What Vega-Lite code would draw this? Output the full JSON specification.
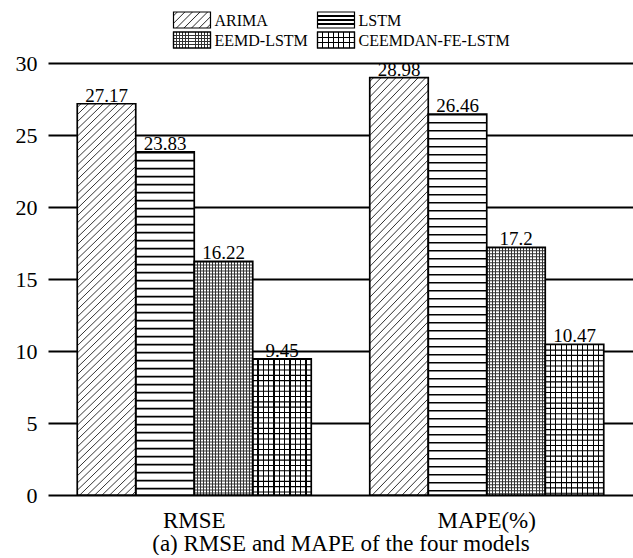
{
"$schema":"https://vega.github.io/schema/vega-lite/v6.json",
"padding":{"left":15,"top":9,"right":0,"bottom":0},
"spacing":13,
"bounds":"flush",
"config":{"font":"Liberation Serif","view":{"stroke":null},"text":{"font":"Liberation Serif"},"axis":{"labelFont":"Liberation Serif","titleFont":"Liberation Serif"}},
"datasets":{
"scores":[
{"metric":"RMSE","model":"ARIMA","value":27.17},
{"metric":"RMSE","model":"LSTM","value":23.83},
{"metric":"RMSE","model":"EEMD-LSTM","value":16.22},
{"metric":"RMSE","model":"CEEMDAN-FE-LSTM","value":9.45},
{"metric":"MAPE(%)","model":"ARIMA","value":28.98},
{"metric":"MAPE(%)","model":"LSTM","value":26.46},
{"metric":"MAPE(%)","model":"EEMD-LSTM","value":17.2},
{"metric":"MAPE(%)","model":"CEEMDAN-FE-LSTM","value":10.47}
],
"legend":[
{"model":"ARIMA","col":0,"row":0},
{"model":"LSTM","col":1,"row":0},
{"model":"EEMD-LSTM","col":0,"row":1},
{"model":"CEEMDAN-FE-LSTM","col":1,"row":1}
]
},
"vconcat":[
{
"width":432,"height":40,
"data":{"name":"legend"},
"encoding":{
"x":{"field":"col","type":"ordinal","scale":{"type":"point","padding":1},"axis":null},
"y":{"field":"row","type":"ordinal","scale":{"type":"point","padding":0.5},"axis":null}
},
"layer":[
{"mark":{"type":"point","shape":"M-1,-0.4324L1,-0.4324L1,0.4324L-1,0.4324Z","size":1369,"filled":true,"opacity":1,"stroke":"black","strokeWidth":1.2},
"encoding":{"fill":{"condition":[
{"test":"datum.model==='ARIMA'","value":{"gradient":"linear","x1":0,"y1":0,"x2":1.207,"y2":0.522,"stops":[
{"offset":0.0514,"color":"#fff"},{"offset":0.0714,"color":"#333"},{"offset":0.0914,"color":"#fff"},
{"offset":0.1943,"color":"#fff"},{"offset":0.2143,"color":"#333"},{"offset":0.2343,"color":"#fff"},
{"offset":0.3371,"color":"#fff"},{"offset":0.3571,"color":"#333"},{"offset":0.3771,"color":"#fff"},
{"offset":0.48,"color":"#fff"},{"offset":0.5,"color":"#333"},{"offset":0.52,"color":"#fff"},
{"offset":0.6229,"color":"#fff"},{"offset":0.6429,"color":"#333"},{"offset":0.6629,"color":"#fff"},
{"offset":0.7657,"color":"#fff"},{"offset":0.7857,"color":"#333"},{"offset":0.8057,"color":"#fff"},
{"offset":0.9086,"color":"#fff"},{"offset":0.9286,"color":"#333"},{"offset":0.9486,"color":"#fff"}]}},
{"test":"datum.model==='LSTM'","value":{"gradient":"linear","x1":0,"y1":0,"x2":0,"y2":1,"stops":[
{"offset":0.205,"color":"#fff"},{"offset":0.205,"color":"#000"},{"offset":0.295,"color":"#000"},{"offset":0.295,"color":"#fff"},
{"offset":0.455,"color":"#fff"},{"offset":0.455,"color":"#000"},{"offset":0.545,"color":"#000"},{"offset":0.545,"color":"#fff"},
{"offset":0.705,"color":"#fff"},{"offset":0.705,"color":"#000"},{"offset":0.795,"color":"#000"},{"offset":0.795,"color":"#fff"}]}},
{"test":"datum.model==='EEMD-LSTM'","value":{"gradient":"linear","x1":0,"y1":0,"x2":1,"y2":0,"stops":[
{"offset":0.0698,"color":"#fff"},{"offset":0.0698,"color":"#333"},{"offset":0.0968,"color":"#333"},{"offset":0.0968,"color":"#fff"},
{"offset":0.1532,"color":"#fff"},{"offset":0.1532,"color":"#333"},{"offset":0.1802,"color":"#333"},{"offset":0.1802,"color":"#fff"},
{"offset":0.2365,"color":"#fff"},{"offset":0.2365,"color":"#333"},{"offset":0.2635,"color":"#333"},{"offset":0.2635,"color":"#fff"},
{"offset":0.3198,"color":"#fff"},{"offset":0.3198,"color":"#333"},{"offset":0.3468,"color":"#333"},{"offset":0.3468,"color":"#fff"},
{"offset":0.4032,"color":"#fff"},{"offset":0.4032,"color":"#333"},{"offset":0.4302,"color":"#333"},{"offset":0.4302,"color":"#fff"},
{"offset":0.4865,"color":"#fff"},{"offset":0.4865,"color":"#333"},{"offset":0.5135,"color":"#333"},{"offset":0.5135,"color":"#fff"},
{"offset":0.5698,"color":"#fff"},{"offset":0.5698,"color":"#333"},{"offset":0.5968,"color":"#333"},{"offset":0.5968,"color":"#fff"},
{"offset":0.6532,"color":"#fff"},{"offset":0.6532,"color":"#333"},{"offset":0.6802,"color":"#333"},{"offset":0.6802,"color":"#fff"},
{"offset":0.7365,"color":"#fff"},{"offset":0.7365,"color":"#333"},{"offset":0.7635,"color":"#333"},{"offset":0.7635,"color":"#fff"},
{"offset":0.8198,"color":"#fff"},{"offset":0.8198,"color":"#333"},{"offset":0.8468,"color":"#333"},{"offset":0.8468,"color":"#fff"},
{"offset":0.9032,"color":"#fff"},{"offset":0.9032,"color":"#333"},{"offset":0.9302,"color":"#333"},{"offset":0.9302,"color":"#fff"}]}},
{"test":"datum.model==='CEEMDAN-FE-LSTM'","value":{"gradient":"linear","x1":0,"y1":0,"x2":1,"y2":0,"stops":[
{"offset":0.1294,"color":"#fff"},{"offset":0.1294,"color":"#000"},{"offset":0.1564,"color":"#000"},{"offset":0.1564,"color":"#fff"},
{"offset":0.2722,"color":"#fff"},{"offset":0.2722,"color":"#000"},{"offset":0.2992,"color":"#000"},{"offset":0.2992,"color":"#fff"},
{"offset":0.4151,"color":"#fff"},{"offset":0.4151,"color":"#000"},{"offset":0.4421,"color":"#000"},{"offset":0.4421,"color":"#fff"},
{"offset":0.5579,"color":"#fff"},{"offset":0.5579,"color":"#000"},{"offset":0.5849,"color":"#000"},{"offset":0.5849,"color":"#fff"},
{"offset":0.7008,"color":"#fff"},{"offset":0.7008,"color":"#000"},{"offset":0.7278,"color":"#000"},{"offset":0.7278,"color":"#fff"},
{"offset":0.8436,"color":"#fff"},{"offset":0.8436,"color":"#000"},{"offset":0.8706,"color":"#000"},{"offset":0.8706,"color":"#fff"}]}}
],"value":"white"}}},
{"transform":[{"filter":"datum.model==='EEMD-LSTM' || datum.model==='CEEMDAN-FE-LSTM'"}],
"mark":{"type":"point","shape":"M-1,-0.4324L1,-0.4324L1,0.4324L-1,0.4324Z","size":1369,"filled":true,"opacity":1,"stroke":"black","strokeWidth":1.2},
"encoding":{"fill":{"condition":[
{"test":"datum.model==='EEMD-LSTM'","value":{"gradient":"linear","x1":0,"y1":0,"x2":0,"y2":1,"stops":[
{"offset":0.169,"color":"rgba(0,0,0,0)"},{"offset":0.169,"color":"#333"},{"offset":0.231,"color":"#333"},{"offset":0.231,"color":"rgba(0,0,0,0)"},
{"offset":0.369,"color":"rgba(0,0,0,0)"},{"offset":0.369,"color":"#333"},{"offset":0.431,"color":"#333"},{"offset":0.431,"color":"rgba(0,0,0,0)"},
{"offset":0.569,"color":"rgba(0,0,0,0)"},{"offset":0.569,"color":"#333"},{"offset":0.631,"color":"#333"},{"offset":0.631,"color":"rgba(0,0,0,0)"},
{"offset":0.769,"color":"rgba(0,0,0,0)"},{"offset":0.769,"color":"#333"},{"offset":0.831,"color":"#333"},{"offset":0.831,"color":"rgba(0,0,0,0)"}]}}
],"value":{"gradient":"linear","x1":0,"y1":0,"x2":0,"y2":1,"stops":[
{"offset":0.3023,"color":"rgba(0,0,0,0)"},{"offset":0.3023,"color":"#000"},{"offset":0.3643,"color":"#000"},{"offset":0.3643,"color":"rgba(0,0,0,0)"},
{"offset":0.6357,"color":"rgba(0,0,0,0)"},{"offset":0.6357,"color":"#000"},{"offset":0.6977,"color":"#000"},{"offset":0.6977,"color":"rgba(0,0,0,0)"}]}}}},
{"mark":{"type":"text","align":"left","baseline":"middle","dx":22.5,"dy":1,"fontSize":16,"color":"black","font":"Liberation Serif"},
"encoding":{"text":{"field":"model","type":"nominal"}}}
]
},
{
"width":585,"height":432,
"data":{"name":"scores"},
"encoding":{
"x":{"field":"metric","type":"nominal","sort":["RMSE","MAPE(%)"],"scale":{"paddingInner":0.2,"paddingOuter":0.1},
"axis":{"title":"(a) RMSE and MAPE of the four models","titleFont":"Liberation Serif","titleFontSize":23,"titleFontWeight":"normal","titleColor":"black","titlePadding":0,"labelFont":"Liberation Serif","labelFontSize":23,"labelColor":"black","labelPadding":14,"labelAngle":0,"domain":false,"ticks":false}},
"xOffset":{"field":"model","type":"nominal","sort":["ARIMA","LSTM","EEMD-LSTM","CEEMDAN-FE-LSTM"],"scale":{"paddingInner":0,"paddingOuter":0}},
"y":{"field":"value","type":"quantitative","scale":{"domain":[0,30],"nice":false},
"axis":{"values":[0,5,10,15,20,25,30],"grid":true,"gridColor":"black","gridWidth":2,"gridOpacity":1,"domain":false,"ticks":false,"labelFont":"Liberation Serif","labelFontSize":22,"labelColor":"black","labelPadding":11,"title":null}}
},
"layer":[
{"mark":{"type":"bar","strokeWidth":0},
"encoding":{"fill":{"condition":[
{"test":"datum.model==='ARIMA'","value":{"gradient":"linear","x1":0,"y1":0,"x2":0.1624,"y2":1.1213,"stops":[
{"offset":0.0059,"color":"#fff"},{"offset":0.0081,"color":"#333"},{"offset":0.0103,"color":"#fff"},
{"offset":0.0220,"color":"#fff"},{"offset":0.0242,"color":"#333"},{"offset":0.0264,"color":"#fff"},
{"offset":0.0381,"color":"#fff"},{"offset":0.0403,"color":"#333"},{"offset":0.0425,"color":"#fff"},
{"offset":0.0543,"color":"#fff"},{"offset":0.0565,"color":"#333"},{"offset":0.0587,"color":"#fff"},
{"offset":0.0704,"color":"#fff"},{"offset":0.0726,"color":"#333"},{"offset":0.0748,"color":"#fff"},
{"offset":0.0865,"color":"#fff"},{"offset":0.0887,"color":"#333"},{"offset":0.0909,"color":"#fff"},
{"offset":0.1026,"color":"#fff"},{"offset":0.1048,"color":"#333"},{"offset":0.1070,"color":"#fff"},
{"offset":0.1188,"color":"#fff"},{"offset":0.1210,"color":"#333"},{"offset":0.1232,"color":"#fff"},
{"offset":0.1349,"color":"#fff"},{"offset":0.1371,"color":"#333"},{"offset":0.1393,"color":"#fff"},
{"offset":0.1510,"color":"#fff"},{"offset":0.1532,"color":"#333"},{"offset":0.1554,"color":"#fff"},
{"offset":0.1672,"color":"#fff"},{"offset":0.1694,"color":"#333"},{"offset":0.1716,"color":"#fff"},
{"offset":0.1833,"color":"#fff"},{"offset":0.1855,"color":"#333"},{"offset":0.1877,"color":"#fff"},
{"offset":0.1994,"color":"#fff"},{"offset":0.2016,"color":"#333"},{"offset":0.2038,"color":"#fff"},
{"offset":0.2155,"color":"#fff"},{"offset":0.2177,"color":"#333"},{"offset":0.2199,"color":"#fff"},
{"offset":0.2317,"color":"#fff"},{"offset":0.2339,"color":"#333"},{"offset":0.2361,"color":"#fff"},
{"offset":0.2478,"color":"#fff"},{"offset":0.2500,"color":"#333"},{"offset":0.2522,"color":"#fff"},
{"offset":0.2639,"color":"#fff"},{"offset":0.2661,"color":"#333"},{"offset":0.2683,"color":"#fff"},
{"offset":0.2801,"color":"#fff"},{"offset":0.2823,"color":"#333"},{"offset":0.2845,"color":"#fff"},
{"offset":0.2962,"color":"#fff"},{"offset":0.2984,"color":"#333"},{"offset":0.3006,"color":"#fff"},
{"offset":0.3123,"color":"#fff"},{"offset":0.3145,"color":"#333"},{"offset":0.3167,"color":"#fff"},
{"offset":0.3285,"color":"#fff"},{"offset":0.3307,"color":"#333"},{"offset":0.3329,"color":"#fff"},
{"offset":0.3446,"color":"#fff"},{"offset":0.3468,"color":"#333"},{"offset":0.3490,"color":"#fff"},
{"offset":0.3607,"color":"#fff"},{"offset":0.3629,"color":"#333"},{"offset":0.3651,"color":"#fff"},
{"offset":0.3768,"color":"#fff"},{"offset":0.3790,"color":"#333"},{"offset":0.3812,"color":"#fff"},
{"offset":0.3930,"color":"#fff"},{"offset":0.3952,"color":"#333"},{"offset":0.3974,"color":"#fff"},
{"offset":0.4091,"color":"#fff"},{"offset":0.4113,"color":"#333"},{"offset":0.4135,"color":"#fff"},
{"offset":0.4252,"color":"#fff"},{"offset":0.4274,"color":"#333"},{"offset":0.4296,"color":"#fff"},
{"offset":0.4414,"color":"#fff"},{"offset":0.4436,"color":"#333"},{"offset":0.4458,"color":"#fff"},
{"offset":0.4575,"color":"#fff"},{"offset":0.4597,"color":"#333"},{"offset":0.4619,"color":"#fff"},
{"offset":0.4736,"color":"#fff"},{"offset":0.4758,"color":"#333"},{"offset":0.4780,"color":"#fff"},
{"offset":0.4897,"color":"#fff"},{"offset":0.4919,"color":"#333"},{"offset":0.4941,"color":"#fff"},
{"offset":0.5059,"color":"#fff"},{"offset":0.5081,"color":"#333"},{"offset":0.5103,"color":"#fff"},
{"offset":0.5220,"color":"#fff"},{"offset":0.5242,"color":"#333"},{"offset":0.5264,"color":"#fff"},
{"offset":0.5381,"color":"#fff"},{"offset":0.5403,"color":"#333"},{"offset":0.5425,"color":"#fff"},
{"offset":0.5543,"color":"#fff"},{"offset":0.5565,"color":"#333"},{"offset":0.5587,"color":"#fff"},
{"offset":0.5704,"color":"#fff"},{"offset":0.5726,"color":"#333"},{"offset":0.5748,"color":"#fff"},
{"offset":0.5865,"color":"#fff"},{"offset":0.5887,"color":"#333"},{"offset":0.5909,"color":"#fff"},
{"offset":0.6026,"color":"#fff"},{"offset":0.6048,"color":"#333"},{"offset":0.6070,"color":"#fff"},
{"offset":0.6188,"color":"#fff"},{"offset":0.6210,"color":"#333"},{"offset":0.6232,"color":"#fff"},
{"offset":0.6349,"color":"#fff"},{"offset":0.6371,"color":"#333"},{"offset":0.6393,"color":"#fff"},
{"offset":0.6510,"color":"#fff"},{"offset":0.6532,"color":"#333"},{"offset":0.6554,"color":"#fff"},
{"offset":0.6672,"color":"#fff"},{"offset":0.6694,"color":"#333"},{"offset":0.6716,"color":"#fff"},
{"offset":0.6833,"color":"#fff"},{"offset":0.6855,"color":"#333"},{"offset":0.6877,"color":"#fff"},
{"offset":0.6994,"color":"#fff"},{"offset":0.7016,"color":"#333"},{"offset":0.7038,"color":"#fff"},
{"offset":0.7155,"color":"#fff"},{"offset":0.7177,"color":"#333"},{"offset":0.7199,"color":"#fff"},
{"offset":0.7317,"color":"#fff"},{"offset":0.7339,"color":"#333"},{"offset":0.7361,"color":"#fff"},
{"offset":0.7478,"color":"#fff"},{"offset":0.7500,"color":"#333"},{"offset":0.7522,"color":"#fff"},
{"offset":0.7639,"color":"#fff"},{"offset":0.7661,"color":"#333"},{"offset":0.7683,"color":"#fff"},
{"offset":0.7801,"color":"#fff"},{"offset":0.7823,"color":"#333"},{"offset":0.7845,"color":"#fff"},
{"offset":0.7962,"color":"#fff"},{"offset":0.7984,"color":"#333"},{"offset":0.8006,"color":"#fff"},
{"offset":0.8123,"color":"#fff"},{"offset":0.8145,"color":"#333"},{"offset":0.8167,"color":"#fff"},
{"offset":0.8285,"color":"#fff"},{"offset":0.8307,"color":"#333"},{"offset":0.8329,"color":"#fff"},
{"offset":0.8446,"color":"#fff"},{"offset":0.8468,"color":"#333"},{"offset":0.8490,"color":"#fff"},
{"offset":0.8607,"color":"#fff"},{"offset":0.8629,"color":"#333"},{"offset":0.8651,"color":"#fff"},
{"offset":0.8768,"color":"#fff"},{"offset":0.8790,"color":"#333"},{"offset":0.8812,"color":"#fff"},
{"offset":0.8930,"color":"#fff"},{"offset":0.8952,"color":"#333"},{"offset":0.8974,"color":"#fff"},
{"offset":0.9091,"color":"#fff"},{"offset":0.9113,"color":"#333"},{"offset":0.9135,"color":"#fff"},
{"offset":0.9252,"color":"#fff"},{"offset":0.9274,"color":"#333"},{"offset":0.9296,"color":"#fff"},
{"offset":0.9414,"color":"#fff"},{"offset":0.9436,"color":"#333"},{"offset":0.9458,"color":"#fff"},
{"offset":0.9575,"color":"#fff"},{"offset":0.9597,"color":"#333"},{"offset":0.9619,"color":"#fff"},
{"offset":0.9736,"color":"#fff"},{"offset":0.9758,"color":"#333"},{"offset":0.9780,"color":"#fff"},
{"offset":0.9897,"color":"#fff"},{"offset":0.9919,"color":"#333"},{"offset":0.9941,"color":"#fff"}]}},
{"test":"datum.model==='EEMD-LSTM'","value":{"gradient":"linear","x1":0,"y1":0,"x2":1,"y2":0,"stops":[
{"offset":0.0441,"color":"#fff"},{"offset":0.0441,"color":"#333"},{"offset":0.0611,"color":"#333"},{"offset":0.0611,"color":"#fff"},
{"offset":0.0968,"color":"#fff"},{"offset":0.0968,"color":"#333"},{"offset":0.1138,"color":"#333"},{"offset":0.1138,"color":"#fff"},
{"offset":0.1494,"color":"#fff"},{"offset":0.1494,"color":"#333"},{"offset":0.1664,"color":"#333"},{"offset":0.1664,"color":"#fff"},
{"offset":0.2020,"color":"#fff"},{"offset":0.2020,"color":"#333"},{"offset":0.2190,"color":"#333"},{"offset":0.2190,"color":"#fff"},
{"offset":0.2547,"color":"#fff"},{"offset":0.2547,"color":"#333"},{"offset":0.2717,"color":"#333"},{"offset":0.2717,"color":"#fff"},
{"offset":0.3073,"color":"#fff"},{"offset":0.3073,"color":"#333"},{"offset":0.3243,"color":"#333"},{"offset":0.3243,"color":"#fff"},
{"offset":0.3599,"color":"#fff"},{"offset":0.3599,"color":"#333"},{"offset":0.3769,"color":"#333"},{"offset":0.3769,"color":"#fff"},
{"offset":0.4126,"color":"#fff"},{"offset":0.4126,"color":"#333"},{"offset":0.4296,"color":"#333"},{"offset":0.4296,"color":"#fff"},
{"offset":0.4652,"color":"#fff"},{"offset":0.4652,"color":"#333"},{"offset":0.4822,"color":"#333"},{"offset":0.4822,"color":"#fff"},
{"offset":0.5178,"color":"#fff"},{"offset":0.5178,"color":"#333"},{"offset":0.5348,"color":"#333"},{"offset":0.5348,"color":"#fff"},
{"offset":0.5704,"color":"#fff"},{"offset":0.5704,"color":"#333"},{"offset":0.5874,"color":"#333"},{"offset":0.5874,"color":"#fff"},
{"offset":0.6231,"color":"#fff"},{"offset":0.6231,"color":"#333"},{"offset":0.6401,"color":"#333"},{"offset":0.6401,"color":"#fff"},
{"offset":0.6757,"color":"#fff"},{"offset":0.6757,"color":"#333"},{"offset":0.6927,"color":"#333"},{"offset":0.6927,"color":"#fff"},
{"offset":0.7283,"color":"#fff"},{"offset":0.7283,"color":"#333"},{"offset":0.7453,"color":"#333"},{"offset":0.7453,"color":"#fff"},
{"offset":0.7810,"color":"#fff"},{"offset":0.7810,"color":"#333"},{"offset":0.7980,"color":"#333"},{"offset":0.7980,"color":"#fff"},
{"offset":0.8336,"color":"#fff"},{"offset":0.8336,"color":"#333"},{"offset":0.8506,"color":"#333"},{"offset":0.8506,"color":"#fff"},
{"offset":0.8862,"color":"#fff"},{"offset":0.8862,"color":"#333"},{"offset":0.9032,"color":"#333"},{"offset":0.9032,"color":"#fff"},
{"offset":0.9389,"color":"#fff"},{"offset":0.9389,"color":"#333"},{"offset":0.9559,"color":"#333"},{"offset":0.9559,"color":"#fff"}]}},
{"test":"datum.model==='CEEMDAN-FE-LSTM'","value":{"gradient":"linear","x1":0,"y1":0,"x2":1,"y2":0,"stops":[
{"offset":0.0809,"color":"#fff"},{"offset":0.0809,"color":"#000"},{"offset":0.1009,"color":"#000"},{"offset":0.1009,"color":"#fff"},
{"offset":0.1718,"color":"#fff"},{"offset":0.1718,"color":"#000"},{"offset":0.1918,"color":"#000"},{"offset":0.1918,"color":"#fff"},
{"offset":0.2627,"color":"#fff"},{"offset":0.2627,"color":"#000"},{"offset":0.2827,"color":"#000"},{"offset":0.2827,"color":"#fff"},
{"offset":0.3536,"color":"#fff"},{"offset":0.3536,"color":"#000"},{"offset":0.3736,"color":"#000"},{"offset":0.3736,"color":"#fff"},
{"offset":0.4445,"color":"#fff"},{"offset":0.4445,"color":"#000"},{"offset":0.4645,"color":"#000"},{"offset":0.4645,"color":"#fff"},
{"offset":0.5355,"color":"#fff"},{"offset":0.5355,"color":"#000"},{"offset":0.5555,"color":"#000"},{"offset":0.5555,"color":"#fff"},
{"offset":0.6264,"color":"#fff"},{"offset":0.6264,"color":"#000"},{"offset":0.6464,"color":"#000"},{"offset":0.6464,"color":"#fff"},
{"offset":0.7173,"color":"#fff"},{"offset":0.7173,"color":"#000"},{"offset":0.7373,"color":"#000"},{"offset":0.7373,"color":"#fff"},
{"offset":0.8082,"color":"#fff"},{"offset":0.8082,"color":"#000"},{"offset":0.8282,"color":"#000"},{"offset":0.8282,"color":"#fff"},
{"offset":0.8991,"color":"#fff"},{"offset":0.8991,"color":"#000"},{"offset":0.9191,"color":"#000"},{"offset":0.9191,"color":"#fff"}]}}
],"value":"white"}}},
{"transform":[{"filter":"datum.model!=='ARIMA'"}],
"mark":{"type":"rule","strokeWidth":58,"strokeCap":"butt"},
"encoding":{"y2":{"datum":0},
"stroke":{"condition":{"test":"datum.model==='EEMD-LSTM'","value":"#333"},"value":"black"},
"strokeDash":{"condition":[{"test":"datum.model==='LSTM'","value":[1.6,6.4]},{"test":"datum.model==='EEMD-LSTM'","value":[1,2]}],"value":[1.1,4.2]}}},
{"mark":{"type":"bar","fill":"transparent","stroke":"black","strokeWidth":1.7}},
{"mark":{"type":"text","fontSize":19,"baseline":"alphabetic","dy":-2,"color":"black","font":"Liberation Serif"},
"encoding":{"text":{"field":"value","type":"nominal"}}}
]
}
]
}
